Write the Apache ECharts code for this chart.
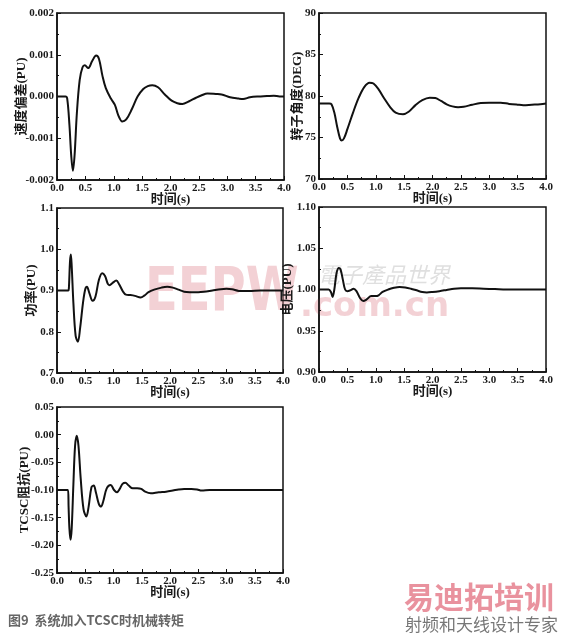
<!DOCTYPE html>
<html><head><meta charset="utf-8">
<script src="https://cdn.jsdelivr.net/npm/echarts@6/dist/echarts.min.js"></script>
<style>html,body{margin:0;padding:0;background:#fff}#c{width:561px;height:639px}</style>
</head><body><div id="c"></div>
<script>
// ---- data ----
const xTicks = [0.0, 0.5, 1.0, 1.5, 2.0, 2.5, 3.0, 3.5, 4.0];
const xName = '时间(s)';
const yNames = ['速度偏差(PU)', '转子角度(DEG)', '功率(PU)', '电压(PU)', 'TCSC阻抗(PU)'];

const speedT = [0,0.15,0.18,0.22,0.25,0.28,0.31,0.35,0.40,0.45,0.49,0.55,0.62,0.69,0.74,0.80,0.86,0.95,1.02,1.08,1.15,1.22,1.32,1.42,1.52,1.60,1.68,1.78,1.90,2.02,2.12,2.21,2.32,2.45,2.55,2.65,2.80,2.90,3.05,3.20,3.28,3.40,3.55,3.70,3.82,3.92,4.0];
const speedV = [0,0,-0.00005,-0.0007,-0.0014,-0.00178,-0.0014,-0.0004,0.0004,0.0007,0.00075,0.00068,0.00085,0.00098,0.0009,0.0005,0.0002,-0.00005,-0.0002,-0.00045,-0.0006,-0.00055,-0.0003,0.0,0.00018,0.00025,0.00027,0.00022,0.00005,-0.0001,-0.00016,-0.00018,-0.00012,-0.00003,0.00003,0.00007,0.00006,0.00005,-0.00002,-0.00005,-0.00006,-0.00002,0.0,0.00001,0.00002,0.0,0.0];

const angleT = [0,0.18,0.22,0.27,0.32,0.37,0.40,0.44,0.50,0.60,0.70,0.80,0.89,0.96,1.05,1.15,1.25,1.35,1.48,1.58,1.70,1.82,1.95,2.05,2.15,2.25,2.35,2.45,2.55,2.70,2.85,3.00,3.20,3.35,3.50,3.60,3.75,3.90,4.0];
const angleV = [79.1,79.1,79.0,78.0,76.3,74.9,74.65,74.9,76.0,78.0,79.8,81.1,81.6,81.5,80.8,79.7,78.7,78.0,77.8,78.1,78.9,79.5,79.8,79.75,79.4,79.0,78.75,78.65,78.7,78.95,79.15,79.2,79.2,79.05,78.95,78.9,78.95,79.0,79.1];

const powerT = [0,0.2,0.21,0.23,0.245,0.26,0.29,0.33,0.37,0.41,0.46,0.50,0.53,0.57,0.63,0.68,0.74,0.80,0.85,0.90,0.93,0.98,1.05,1.10,1.17,1.22,1.30,1.38,1.48,1.55,1.62,1.72,1.85,1.95,2.05,2.15,2.25,2.35,2.50,2.60,2.75,2.90,3.00,3.10,3.22,3.40,3.60,4.0];
const powerV = [0.9,0.9,0.905,0.97,0.987,0.96,0.87,0.79,0.776,0.81,0.87,0.903,0.909,0.895,0.875,0.885,0.925,0.942,0.935,0.916,0.913,0.918,0.924,0.915,0.897,0.890,0.889,0.887,0.883,0.888,0.896,0.902,0.907,0.909,0.907,0.902,0.897,0.896,0.896,0.897,0.900,0.903,0.904,0.903,0.899,0.899,0.9,0.9];

const voltT = [0,0.17,0.21,0.24,0.27,0.31,0.35,0.38,0.42,0.46,0.50,0.55,0.61,0.66,0.72,0.78,0.84,0.92,1.00,1.05,1.12,1.22,1.32,1.42,1.52,1.62,1.72,1.82,1.90,2.0,2.12,2.25,2.38,2.50,2.70,2.90,3.10,3.30,4.0];
const voltV = [1.0,1.0,0.997,0.991,1.0,1.02,1.026,1.024,1.012,1.0,0.998,0.999,1.001,0.998,0.99,0.986,0.988,0.992,0.992,0.993,0.997,1.0,1.002,1.003,1.0025,1.001,0.999,0.997,0.9965,0.997,0.998,0.9995,1.001,1.0015,1.0015,1.001,1.0005,1.0,1.0];

const tcscT = [0,0.195,0.205,0.22,0.24,0.26,0.29,0.32,0.35,0.38,0.42,0.47,0.52,0.56,0.61,0.65,0.69,0.74,0.78,0.82,0.88,0.95,1.01,1.06,1.11,1.16,1.21,1.27,1.34,1.42,1.49,1.56,1.66,1.80,1.93,2.05,2.15,2.25,2.38,2.48,2.56,2.70,4.0];
const tcscV = [-0.1,-0.1,-0.13,-0.17,-0.19,-0.17,-0.09,-0.02,-0.002,-0.02,-0.08,-0.135,-0.148,-0.13,-0.095,-0.092,-0.105,-0.125,-0.13,-0.12,-0.097,-0.091,-0.1,-0.104,-0.098,-0.089,-0.087,-0.092,-0.097,-0.097,-0.098,-0.103,-0.106,-0.104,-0.103,-0.101,-0.099,-0.098,-0.098,-0.099,-0.101,-0.1,-0.1];

const yMin = [-0.002, 70, 0.7, 0.90, -0.25];
const yMax = [0.002, 90, 1.1, 1.10, 0.05];
const yStep = [0.001, 5, 0.1, 0.05, 0.05];
const yDec = [3, 0, 1, 2, 2];

// ---- layout ----
const grids = [
  {left:57, top:13, width:227, height:167},
  {left:319, top:13, width:227, height:166},
  {left:57, top:208, width:226, height:165},
  {left:319, top:207, width:227, height:165},
  {left:57, top:407, width:226, height:166}
];
const yNameGap = [29, 15, 19, 25, 26];
const FONT = '"Liberation Serif", "Noto Sans CJK SC", serif';
const TXT = '#1a1a1a';

const pairs = (t, v) => t.map((x, i) => [x, v[i]]);
const seriesData = [pairs(speedT, speedV), pairs(angleT, angleV), pairs(powerT, powerV), pairs(voltT, voltV), pairs(tcscT, tcscV)];

const option = {
  animation: false,
  backgroundColor: '#fff',
  grid: grids.map(g => Object.assign({show: true, borderColor: '#111', borderWidth: 1.5, backgroundColor: 'transparent'}, g)),
  xAxis: grids.map((g, i) => ({
    type: 'value', gridIndex: i, min: 0, max: 4, interval: 0.5,
    name: xName, nameLocation: 'middle', nameGap: 13, nameMoveOverlap: false,
    nameTextStyle: {fontFamily: FONT, fontWeight: 'bold', fontSize: 13, color: TXT},
    axisLine: {show: true, onZero: false, lineStyle: {color: '#111', width: 1.5}},
    axisTick: {show: true, inside: true, length: 4, lineStyle: {color: '#111'}},
    minorTick: {show: true, splitNumber: 2, length: 2, lineStyle: {color: '#111'}},
    splitLine: {show: false},
    axisLabel: {margin: 3, fontFamily: FONT, fontWeight: 'bold', fontSize: 11, color: TXT,
      formatter: v => v.toFixed(1)}
  })),
  yAxis: grids.map((g, i) => ({
    type: 'value', gridIndex: i, min: yMin[i], max: yMax[i], interval: yStep[i],
    name: yNames[i], nameLocation: 'middle', nameGap: yNameGap[i], nameRotate: 90, nameMoveOverlap: false,
    nameTextStyle: {fontFamily: FONT, fontWeight: 'bold', fontSize: 13, color: TXT},
    axisLine: {show: true, onZero: false, lineStyle: {color: '#111', width: 1.5}},
    axisTick: {show: true, inside: true, length: 4, lineStyle: {color: '#111'}},
    minorTick: {show: true, splitNumber: 2, length: 2, lineStyle: {color: '#111'}},
    splitLine: {show: false},
    axisLabel: {margin: 3, fontFamily: FONT, fontWeight: 'bold', fontSize: 11, color: TXT,
      formatter: v => v.toFixed(yDec[i])}
  })),
  series: seriesData.map((d, i) => ({
    type: 'line', xAxisIndex: i, yAxisIndex: i, data: d, smooth: 0.35,
    showSymbol: false, symbol: 'none',
    lineStyle: {color: '#111', width: 2}
  })),
  graphic: [
    {type: 'text', left: 145, top: 264, silent: true, z: 0,
      style: {text: 'EEPW', font: 'bold 60px "DejaVu Sans"', fill: 'rgba(225,140,150,0.4)'}, scaleX: 0.8},
    {type: 'text', left: 300, top: 290, silent: true, z: 0,
      style: {text: '.com.cn', font: 'bold 34px "DejaVu Sans"', fill: 'rgba(225,140,150,0.4)'}},
    {type: 'text', left: 318, top: 264, silent: true, z: 0,
      style: {text: '電子產品世界', font: 'italic 22px "Noto Sans CJK TC"', fill: 'rgba(150,150,150,0.3)'}},
    {type: 'text', left: 8, top: 614, silent: true,
      style: {text: '图9  系统加入TCSC时机械转矩', font: 'bold 13px "Noto Sans CJK SC"', fill: '#666'}},
    {type: 'text', left: 404, top: 582, silent: true,
      style: {text: '易迪拓培训', font: 'bold 30px "Noto Sans CJK SC"', fill: 'rgba(225,110,125,0.75)'}},
    {type: 'text', left: 405, top: 616, silent: true,
      style: {text: '射频和天线设计专家', font: '17px "Noto Sans CJK SC"', fill: '#777'}}
  ]
};
const chart = echarts.init(document.getElementById('c'), null, {renderer: 'canvas'});
chart.setOption(option);
</script></body></html>
